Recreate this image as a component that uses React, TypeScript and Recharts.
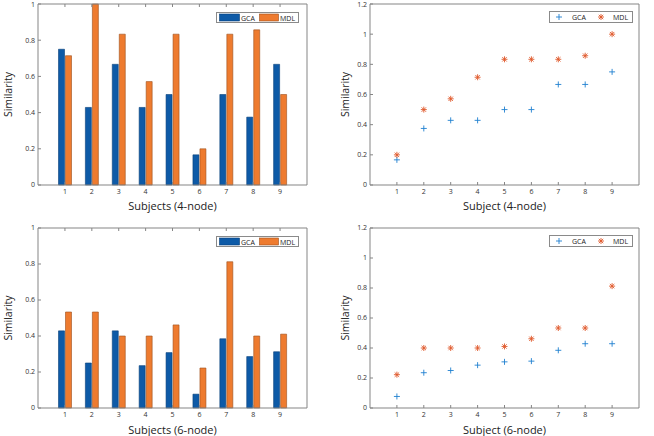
import { BarChart, Bar, ScatterChart, Scatter, XAxis, YAxis } from 'recharts';

const subjects = [1, 2, 3, 4, 5, 6, 7, 8, 9];

// per-subject similarity (bar panels)
const gca4 = [0.75, 0.4286, 0.6667, 0.4286, 0.5, 0.1667, 0.5, 0.375, 0.6667];
const mdl4 = [0.7143, 1.0, 0.8333, 0.5714, 0.8333, 0.2, 0.8333, 0.8571, 0.5];
const gca6 = [0.4286, 0.25, 0.4286, 0.2353, 0.3077, 0.0769, 0.3846, 0.2857, 0.3125];
const mdl6 = [0.5333, 0.5333, 0.4, 0.4, 0.4615, 0.2222, 0.8125, 0.4, 0.4103];

// sorted similarity (scatter panels)
const gca4Sorted = [0.1667, 0.375, 0.4286, 0.4286, 0.5, 0.5, 0.6667, 0.6667, 0.75];
const mdl4Sorted = [0.2, 0.5, 0.5714, 0.7143, 0.8333, 0.8333, 0.8333, 0.8571, 1.0];
const gca6Sorted = [0.0769, 0.2353, 0.25, 0.2857, 0.3077, 0.3125, 0.3846, 0.4286, 0.4286];
const mdl6Sorted = [0.2222, 0.4, 0.4, 0.4, 0.4103, 0.4615, 0.5333, 0.5333, 0.8125];

const barTicks = [0, 0.2, 0.4, 0.6, 0.8, 1];
const scatterTicks = [0, 0.2, 0.4, 0.6, 0.8, 1, 1.2];

const AXIS = '#858585';
const TEXT = '#333333';
const FONT = '"Open Sans", "DejaVu Sans", sans-serif';
const BAR_BLUE = '#0d5aa7';
const BAR_ORANGE = '#ee7b2f';
const PT_BLUE = '#1f80d0';
const PT_ORANGE = '#e0582a';

const tickStyle = { fontSize: 7, fill: TEXT, fontFamily: FONT };
const noText = () => <g />;

function PlusShape(props: any) {
  const { cx, cy } = props;
  const r = 3;
  return (
    <g stroke={PT_BLUE} strokeWidth={0.9}>
      <line x1={cx - r} y1={cy} x2={cx + r} y2={cy} />
      <line x1={cx} y1={cy - r} x2={cx} y2={cy + r} />
    </g>
  );
}

function StarShape(props: any) {
  const { cx, cy } = props;
  const r = 3;
  const d = 2.2;
  return (
    <g stroke={PT_ORANGE} strokeWidth={0.9}>
      <line x1={cx - r} y1={cy} x2={cx + r} y2={cy} />
      <line x1={cx} y1={cy - r} x2={cx} y2={cy + r} />
      <line x1={cx - d} y1={cy - d} x2={cx + d} y2={cy + d} />
      <line x1={cx - d} y1={cy + d} x2={cx + d} y2={cy - d} />
    </g>
  );
}

function BarLegend({ left, top }: { left: number; top: number }) {
  return (
    <svg width={83} height={12} style={{ position: 'absolute', left, top }}>
      <rect x={0.5} y={0.5} width={82} height={10} fill="#fff" stroke="#8a8a8a" />
      <rect x={3.5} y={2} width={20} height={7} fill={BAR_BLUE} stroke="#083f78" strokeWidth={0.6} />
      <text x={25} y={8.5} fontSize={7} fill="#222" fontFamily={FONT}>GCA</text>
      <rect x={43.5} y={2} width={19} height={7} fill={BAR_ORANGE} stroke="#9c4f1c" strokeWidth={0.6} />
      <text x={64} y={8.5} fontSize={7} fill="#222" fontFamily={FONT}>MDL</text>
    </svg>
  );
}

function ScatterLegend({ left, top }: { left: number; top: number }) {
  return (
    <svg width={84} height={12} style={{ position: 'absolute', left, top }}>
      <rect x={0.5} y={0.5} width={83} height={11} fill="#fff" stroke="#8a8a8a" />
      <PlusShape cx={10} cy={6} />
      <text x={23} y={9} fontSize={7} fill="#222" fontFamily={FONT}>GCA</text>
      <StarShape cx={52} cy={6} />
      <text x={64} y={9} fontSize={7} fill="#222" fontFamily={FONT}>MDL</text>
    </svg>
  );
}

interface PanelProps {
  left: number;
  top: number;
  height: number;
  marginTop: number;
  xAxisHeight: number;
  labelOffset: number;
  xLabel: string;
  gca: number[];
  mdl: number[];
}

function BarPanel(p: PanelProps) {
  const rows = subjects.map((s, i) => ({ subject: s, GCA: p.gca[i], MDL: p.mdl[i] }));
  return (
    <div style={{ position: 'absolute', left: p.left, top: p.top, width: 327, height: p.height }}>
      <BarChart
        width={327}
        height={p.height}
        data={rows}
        margin={{ top: p.marginTop - 1, right: 19, bottom: 0, left: 0 }}
        barSize={6}
        barGap={1}
      >
        <XAxis
          dataKey="subject"
          padding={{ left: 13.5, right: 13.5 }}
          height={p.xAxisHeight}
          stroke={AXIS}
          tickSize={-3}
          tickMargin={7}
          tick={tickStyle}
          label={{ value: p.xLabel, position: 'insideBottom', offset: p.labelOffset, style: { fontSize: 11, fill: '#222', fontFamily: FONT } }}
        />
        <XAxis
          xAxisId="top"
          orientation="top"
          dataKey="subject"
          padding={{ left: 13.5, right: 13.5 }}
          height={1}
          stroke={AXIS}
          tickSize={-3}
          tick={noText}
        />
        <YAxis
          domain={[0, 1]}
          ticks={barTicks}
          width={38}
          stroke={AXIS}
          tickSize={-3}
          tickMargin={6}
          tick={tickStyle}
          label={{ value: 'Similarity', angle: -90, position: 'insideLeft', offset: 8, style: { textAnchor: 'middle', fontSize: 10.5, fill: '#222', fontFamily: FONT } }}
        />
        <YAxis yAxisId="right" orientation="right" domain={[0, 1]} ticks={barTicks} width={1} stroke={AXIS} tickSize={-3} tick={noText} />
        <Bar dataKey="GCA" fill={BAR_BLUE} stroke="#083f78" strokeWidth={0.6} isAnimationActive={false} />
        <Bar dataKey="MDL" fill={BAR_ORANGE} stroke="#9c4f1c" strokeWidth={0.6} isAnimationActive={false} />
      </BarChart>
      <BarLegend left={216} top={p.marginTop + 8} />
    </div>
  );
}

function ScatterPanel(p: PanelProps) {
  const gcaRows = subjects.map((s, i) => ({ x: s, y: p.gca[i] }));
  const mdlRows = subjects.map((s, i) => ({ x: s, y: p.mdl[i] }));
  return (
    <div style={{ position: 'absolute', left: p.left, top: p.top, width: 327, height: p.height }}>
      <ScatterChart width={327} height={p.height} margin={{ top: p.marginTop - 1, right: 14, bottom: 0, left: 0 }}>
        <XAxis
          type="number"
          dataKey="x"
          domain={[0, 10]}
          ticks={subjects}
          height={p.xAxisHeight}
          stroke={AXIS}
          tickSize={-3}
          tickMargin={7}
          tick={tickStyle}
          label={{ value: p.xLabel, position: 'insideBottom', offset: p.labelOffset, style: { fontSize: 11, fill: '#222', fontFamily: FONT } }}
        />
        <XAxis
          xAxisId="top"
          orientation="top"
          type="number"
          dataKey="x"
          domain={[0, 10]}
          ticks={subjects}
          height={1}
          stroke={AXIS}
          tickSize={-3}
          tick={noText}
        />
        <YAxis
          type="number"
          dataKey="y"
          domain={[0, 1.2]}
          ticks={scatterTicks}
          width={43}
          stroke={AXIS}
          tickSize={-3}
          tickMargin={6}
          tick={tickStyle}
          label={{ value: 'Similarity', angle: -90, position: 'insideLeft', offset: 18, style: { textAnchor: 'middle', fontSize: 10.5, fill: '#222', fontFamily: FONT } }}
        />
        <YAxis
          yAxisId="right"
          orientation="right"
          type="number"
          dataKey="y"
          domain={[0, 1.2]}
          ticks={scatterTicks}
          width={1}
          stroke={AXIS}
          tickSize={-3}
          tick={noText}
        />
        <Scatter name="GCA" data={gcaRows} shape={PlusShape} isAnimationActive={false} />
        <Scatter name="MDL" data={mdlRows} shape={StarShape} isAnimationActive={false} />
      </ScatterChart>
      <ScatterLegend left={222} top={p.marginTop + 7} />
    </div>
  );
}

export default function App() {
  return (
    <div style={{ position: 'absolute', left: 0, top: 0, width: 654, height: 436, background: '#fff', fontFamily: FONT }}>
      <BarPanel left={0} top={0} height={215} marginTop={4} xAxisHeight={30} labelOffset={5} xLabel="Subjects (4-node)" gca={gca4} mdl={mdl4} />
      <ScatterPanel left={327} top={0} height={215} marginTop={4} xAxisHeight={30} labelOffset={5} xLabel="Subject (4-node)" gca={gca4Sorted} mdl={mdl4Sorted} />
      <BarPanel left={0} top={215} height={221} marginTop={13} xAxisHeight={28} labelOffset={2} xLabel="Subjects (6-node)" gca={gca6} mdl={mdl6} />
      <ScatterPanel left={327} top={215} height={221} marginTop={13} xAxisHeight={28} labelOffset={2} xLabel="Subject (6-node)" gca={gca6Sorted} mdl={mdl6Sorted} />
    </div>
  );
}
